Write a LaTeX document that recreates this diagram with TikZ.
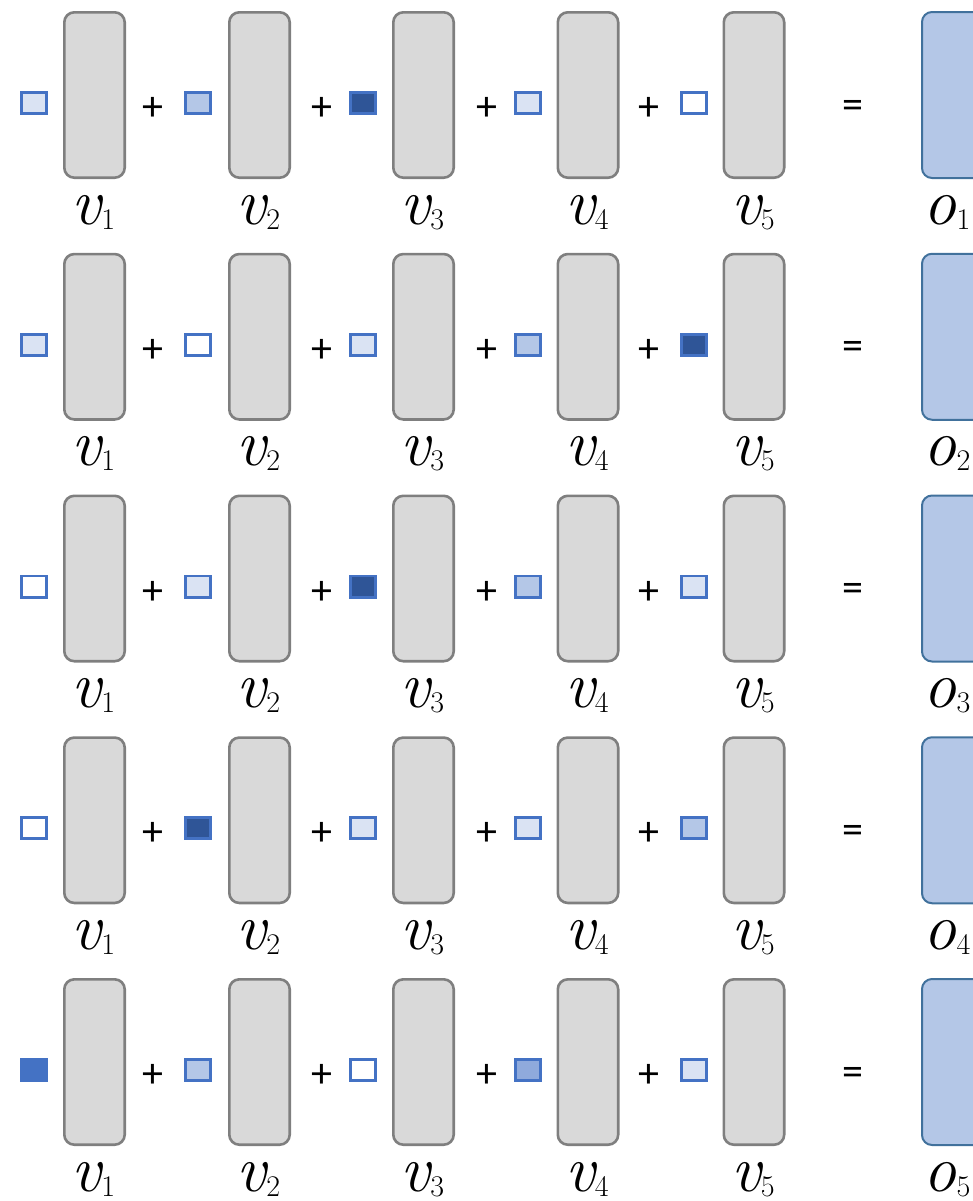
\documentclass[tikz,border=0pt]{standalone}
\usepackage{fontspec}
\newfontfamily\calib{Carlito}
\definecolor{gfill}{HTML}{D9D9D9}
\definecolor{gline}{HTML}{7F7F7F}
\definecolor{ofill}{HTML}{B4C7E7}
\definecolor{oline}{HTML}{41719C}
\definecolor{sqline}{HTML}{4472C4}
\definecolor{sqW}{HTML}{FFFFFF}
\definecolor{sqA}{HTML}{DAE3F3}
\definecolor{sqB}{HTML}{B4C7E7}
\definecolor{sqC}{HTML}{8FAADC}
\definecolor{sqD}{HTML}{4472C4}
\definecolor{sqE}{HTML}{2F5597}
\newcommand{\vlab}[2]{{\fontsize{33}{34}\selectfont\itshape #1}\raisebox{-2.5pt}{\fontsize{15}{16}\selectfont #2}}
\tikzset{
  gbox/.style={draw=gline, fill=gfill, line width=1.3pt, rounded corners=5pt,
    minimum width=30.2pt, minimum height=82.7pt, inner sep=0pt},
  obox/.style={draw=oline, fill=ofill, line width=1pt, rounded corners=5pt,
    minimum width=50pt, minimum height=83pt, inner sep=0pt},
  sq/.style={draw=sqline, line width=1.4pt, minimum width=12.6pt, minimum height=10.6pt, inner sep=0pt},
  pl/.style={inner sep=0pt, font=\calib\fontsize{21}{22}\selectfont},
  lab/.style={inner sep=0pt, anchor=base}
}
\newcommand{\eqrow}[6]{%
  \pgfmathsetmacro\yb{95+241.75*(#1-1)}%
  \pgfmathsetmacro\ys{\yb+8}%
  \pgfmathsetmacro\yp{\yb+14}%
  \pgfmathsetmacro\yl{\yb+129}%
  \foreach \c/\bx in {1/94.5, 2/259.5, 3/423.5, 4/588, 5/754}{
    \node[gbox] (g#1-\c) at (\bx,\yb) {};
    \node[lab] (v#1-\c) at (\bx-1,\yl) {\vlab{v}{\c}};
  }
  \node[sq, fill=#2] (s#1-1) at (34,\ys) {};
  \node[sq, fill=#3] (s#1-2) at (198,\ys) {};
  \node[sq, fill=#4] (s#1-3) at (363,\ys) {};
  \node[sq, fill=#5] (s#1-4) at (528,\ys) {};
  \node[sq, fill=#6] (s#1-5) at (694,\ys) {};
  \foreach \c/\px in {1/153, 2/322, 3/487, 4/649}{
    \node[pl] (p#1-\c) at (\px,\yp) {+};
  }
  \node[pl] (e#1) at (853,\yp) {=};
  \node[obox] (o#1) at (972,\yb) {};
  \node[lab] (ol#1) at (947,\yl) {\vlab{o}{#1}};
}
\begin{document}
\begin{tikzpicture}[x=0.5pt, y=-0.5pt]
\useasboundingbox (0,0) rectangle (973,1201);
\eqrow{1}{sqA}{sqB}{sqE}{sqA}{sqW}
\eqrow{2}{sqA}{sqW}{sqA}{sqB}{sqE}
\eqrow{3}{sqW}{sqA}{sqE}{sqB}{sqA}
\eqrow{4}{sqW}{sqE}{sqA}{sqA}{sqB}
\eqrow{5}{sqD}{sqB}{sqW}{sqC}{sqA}
\end{tikzpicture}
\end{document}
